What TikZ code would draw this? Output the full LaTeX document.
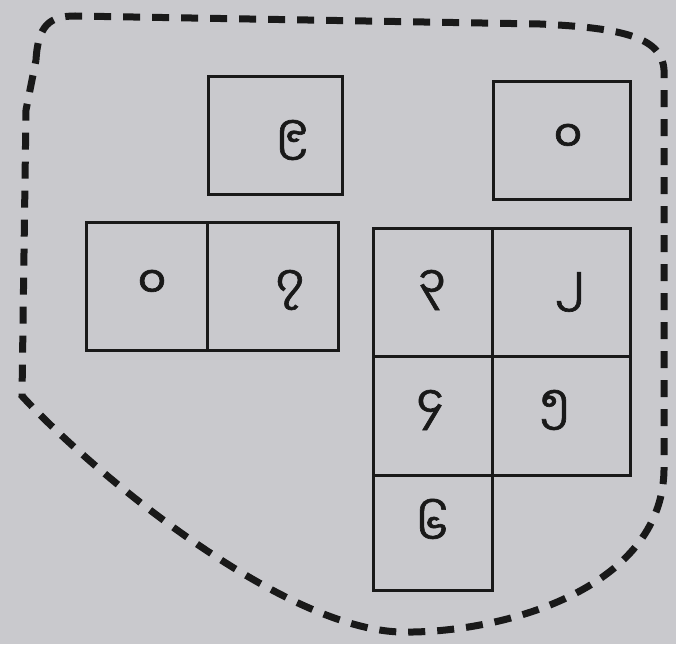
\documentclass[tikz,border=0pt]{standalone}
\usepackage{fontspec}
\newfontfamily\myan[Script=Myanmar,FakeBold=1.5]{Noto Sans Myanmar UI}
\definecolor{paper}{RGB}{201,201,205}
\definecolor{ink}{RGB}{25,25,25}
\begin{document}
\begin{tikzpicture}[x=1pt,y=-1pt,
  cell/.style={draw=ink, line width=3pt, rectangle, inner sep=0pt},
  digit/.style={font=\myan\fontsize{44}{50}\selectfont, text=ink, inner sep=0pt},
  border/.style={draw=ink, line width=7pt, dash pattern=on 17pt off 12pt}]
\fill[paper] (0,0) rectangle (676,644);
\useasboundingbox (0,0) rectangle (676,644);
% dashed outline
\draw[border] (36,60) .. controls (38,25) and (50,16) .. (75,16)
  -- (540,24) .. controls (625,28) and (662,38) .. (664,70)
  -- (664,470) .. controls (662,590) and (500,634) .. (400,632)
  .. controls (280,628) and (90,470) .. (22,396)
  -- (26,110) -- cycle;
% top boxes
\node[cell, minimum width=134pt, minimum height=118pt] (a) at (275,136) {};
\node[cell, minimum width=137pt, minimum height=118pt] (b) at (561.5,141) {};
% left pair
\node[cell, minimum width=121pt, minimum height=128pt] (c1) at (146.5,286) {};
\node[cell, minimum width=131pt, minimum height=128pt] (c2) at (272.5,286) {};
% right block
\node[cell, minimum width=119pt, minimum height=128pt] (r11) at (432.5,292) {};
\node[cell, minimum width=138pt, minimum height=128pt] (r12) at (561,292) {};
\node[cell, minimum width=119pt, minimum height=119pt] (r21) at (432.5,415.5) {};
\node[cell, minimum width=138pt, minimum height=119pt] (r22) at (561,415.5) {};
\node[cell, minimum width=119pt, minimum height=115pt] (r31) at (432.5,532.5) {};
% digits
\node[digit] (ta) at (292,140) {၉};
\node[digit] (tb) at (568,138) {၀};
\node[digit] (tc1) at (152,284) {၀};
\node[digit] (tc2) at (290,290) {၇};
\node[digit] (t11) at (432,290) {၃};
\node[digit] (t12) at (570,292) {၂};
\node[digit] (t21) at (430,410) {၄};
\node[digit] (t22) at (555,410) {၅};
\node[digit] (t31) at (432,522) {၆};
\end{tikzpicture}
\end{document}
